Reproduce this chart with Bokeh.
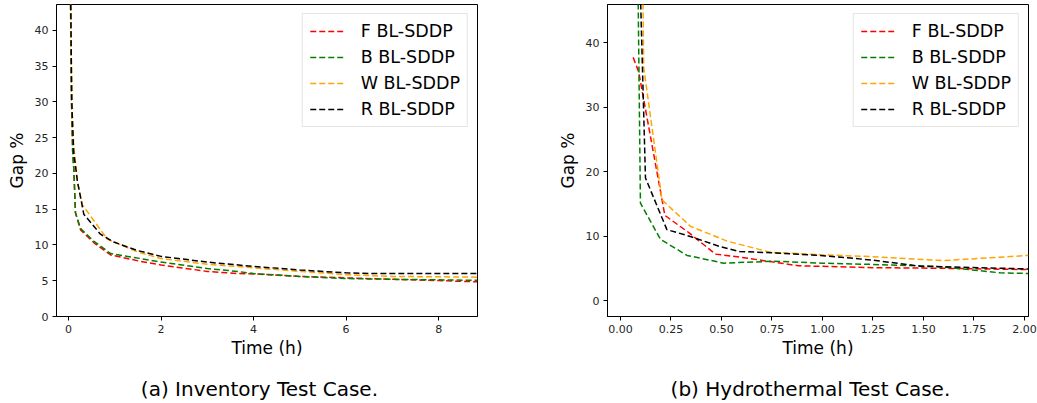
import json
from bokeh.plotting import figure
from bokeh.layouts import row
from bokeh.models import Range1d, FixedTicker, NumeralTickFormatter, LinearAxis, CustomJSTickFormatter
from bokeh.embed import file_html
from bokeh.resources import INLINE

# ---------------- data ----------------
series_names = ["F BL-SDDP", "B BL-SDDP", "W BL-SDDP", "R BL-SDDP"]
series_colors = ["red", "green", "orange", "black"]

# (a) Inventory test case
inv_time_F = [0.02, 0.065, 0.09, 0.115, 0.15, 0.26, 0.55, 0.91, 1.56, 2.0, 3.0, 3.65, 4.0, 5.0, 6.0, 7.0, 8.84]
inv_gap_F = [60, 30, 23, 20.5, 14.5, 12.1, 10.3, 8.6, 7.7, 7.2, 6.3, 6.0, 5.95, 5.6, 5.4, 5.2, 4.85]
inv_time_B = [0.02, 0.065, 0.09, 0.115, 0.15, 0.26, 0.55, 0.91, 1.56, 2.0, 3.0, 3.65, 4.0, 5.0, 6.0, 7.0, 8.84]
inv_gap_B = [60, 30, 23, 20.5, 14.5, 12.3, 10.5, 8.8, 8.1, 7.6, 6.7, 6.3, 6.0, 5.6, 5.3, 5.2, 5.05]
inv_time_W = [0.02, 0.07, 0.11, 0.2, 0.3, 0.84, 1.5, 2.0, 3.0, 4.0, 5.0, 6.0, 7.0, 8.84]
inv_gap_W = [60, 30, 24, 18.5, 15.6, 10.8, 9.0, 8.1, 7.3, 6.8, 6.3, 5.85, 5.6, 5.5]
inv_time_R = [0.02, 0.07, 0.11, 0.19, 0.33, 0.69, 0.98, 1.5, 2.0, 3.0, 4.0, 5.0, 6.0, 6.5, 8.84]
inv_gap_R = [60, 30, 23, 19, 14.3, 11.5, 10.4, 9.2, 8.4, 7.6, 7.0, 6.5, 6.1, 6.0, 6.0]

# (b) Hydrothermal test case
hyd_time_F = [0.063, 0.09, 0.22, 0.34, 0.47, 0.6, 0.75, 0.88, 1.25, 1.6, 2.02]
hyd_gap_F = [37.7, 35.5, 13.2, 10.5, 7.2, 6.7, 6.0, 5.4, 5.1, 5.0, 4.8]
hyd_time_B = [0.083, 0.099, 0.198, 0.33, 0.51, 0.76, 1.0, 1.25, 1.57, 1.88, 2.02]
hyd_gap_B = [60, 15.1, 9.5, 7.0, 5.8, 6.1, 5.8, 5.6, 5.3, 4.3, 4.2]
hyd_time_W = [0.107, 0.115, 0.206, 0.347, 0.53, 0.74, 0.99, 1.25, 1.6, 2.02]
hyd_gap_W = [60, 36.2, 15.6, 11.5, 9.2, 7.5, 7.1, 6.8, 6.2, 7.0]
hyd_time_R = [0.088, 0.124, 0.23, 0.35, 0.49, 0.59, 0.76, 0.99, 1.24, 1.49, 1.65, 2.02]
hyd_gap_R = [60, 19.0, 11.0, 9.9, 8.4, 7.6, 7.4, 7.0, 6.3, 5.3, 5.2, 4.9]

inv_xticks = [0, 2, 4, 6, 8]
inv_yticks = [0, 5, 10, 15, 20, 25, 30, 35, 40]
hyd_xticks = [0.0, 0.25, 0.5, 0.75, 1.0, 1.25, 1.5, 1.75, 2.0]
hyd_yticks = [0, 10, 20, 30, 40]

captions = ["(a) Inventory Test Case.", "(b) Hydrothermal Test Case."]

FONT = "DejaVu Sans"


def make_fig(width, xr, yr, xticks, yticks, series, caption, bl, br, xfmt=None):
    p = figure(width=width, height=403, x_range=Range1d(*xr), y_range=Range1d(*yr),
               output_backend="svg", toolbar_location=None,
               min_border_left=bl, min_border_right=br, min_border_top=4, min_border_bottom=86)
    p.background_fill_color = "white"
    p.border_fill_color = "white"
    p.outline_line_color = "black"
    p.outline_line_width = 1
    p.outline_line_alpha = 1
    p.xgrid.visible = False
    p.ygrid.visible = False
    for ax in (p.xaxis[0], p.yaxis[0]):
        ax.axis_line_color = "black"
        ax.major_tick_line_color = "black"
        ax.major_tick_in = 0
        ax.major_tick_out = 4
        ax.minor_tick_line_color = None
        ax.major_label_text_font = FONT
        ax.major_label_text_font_size = "11px"
        ax.major_label_text_color = "#262626"
        ax.major_label_standoff = 4
        ax.axis_label_text_font = FONT
        ax.axis_label_text_font_size = "17px"
        ax.axis_label_text_font_style = "normal"
        ax.axis_label_text_color = "black"
    p.xaxis[0].ticker = FixedTicker(ticks=xticks)
    p.yaxis[0].ticker = FixedTicker(ticks=yticks)
    if xfmt:
        p.xaxis[0].formatter = NumeralTickFormatter(format=xfmt)
    p.xaxis[0].axis_label = "Time (h)"
    p.yaxis[0].axis_label = "Gap %"
    p.xaxis[0].axis_label_standoff = 2
    p.yaxis[0].axis_label_standoff = 5

    for (t, g), name, col in zip(series, series_names, series_colors):
        p.line(t, g, line_color=col, line_width=1.5, line_dash="6 3", legend_label=name)

    lg = p.legend[0]
    lg.location = "top_right"
    lg.margin = 9
    lg.label_text_font = FONT
    lg.label_text_font_size = "17.5px"
    lg.label_text_color = "black"
    lg.glyph_width = 34
    lg.glyph_height = 18
    lg.label_height = 18
    lg.label_standoff = 17
    lg.spacing = 6
    lg.padding = 7
    lg.border_line_color = "#cccccc"
    lg.border_line_width = 1
    lg.background_fill_color = "white"
    lg.background_fill_alpha = 0.8

    # caption: an extra axis below "Time (h)" with a single labelled position,
    # slightly left of the frame centre (as in the reference figure)
    cx = round(xr[0] + 0.482 * (xr[1] - xr[0]), 4)
    cap = LinearAxis(ticker=FixedTicker(ticks=[cx]),
                     formatter=CustomJSTickFormatter(code="return " + json.dumps(caption) + ";"))
    cap.axis_line_color = None
    cap.major_tick_line_color = None
    cap.minor_tick_line_color = None
    cap.major_tick_out = 0
    cap.major_tick_in = 0
    cap.minor_tick_out = 0
    cap.major_label_standoff = 16
    cap.major_label_text_font = FONT
    cap.major_label_text_font_size = "20px"
    cap.major_label_text_color = "black"
    p.add_layout(cap, "below")
    return p


p1 = make_fig(540, (-0.26, 8.84), (0, 43.6), inv_xticks, inv_yticks,
              [(inv_time_F, inv_gap_F), (inv_time_B, inv_gap_B),
               (inv_time_W, inv_gap_W), (inv_time_R, inv_gap_R)],
              captions[0], 56, 63)
p2 = make_fig(497, (-0.064, 2.02), (-2.47, 45.9), hyd_xticks, hyd_yticks,
              [(hyd_time_F, hyd_gap_F), (hyd_time_B, hyd_gap_B),
               (hyd_time_W, hyd_gap_W), (hyd_time_R, hyd_gap_R)],
              captions[1], 67, 9, xfmt="0.00")

layout = row(p1, p2)
open("out.html", "w").write(file_html(layout, INLINE))
